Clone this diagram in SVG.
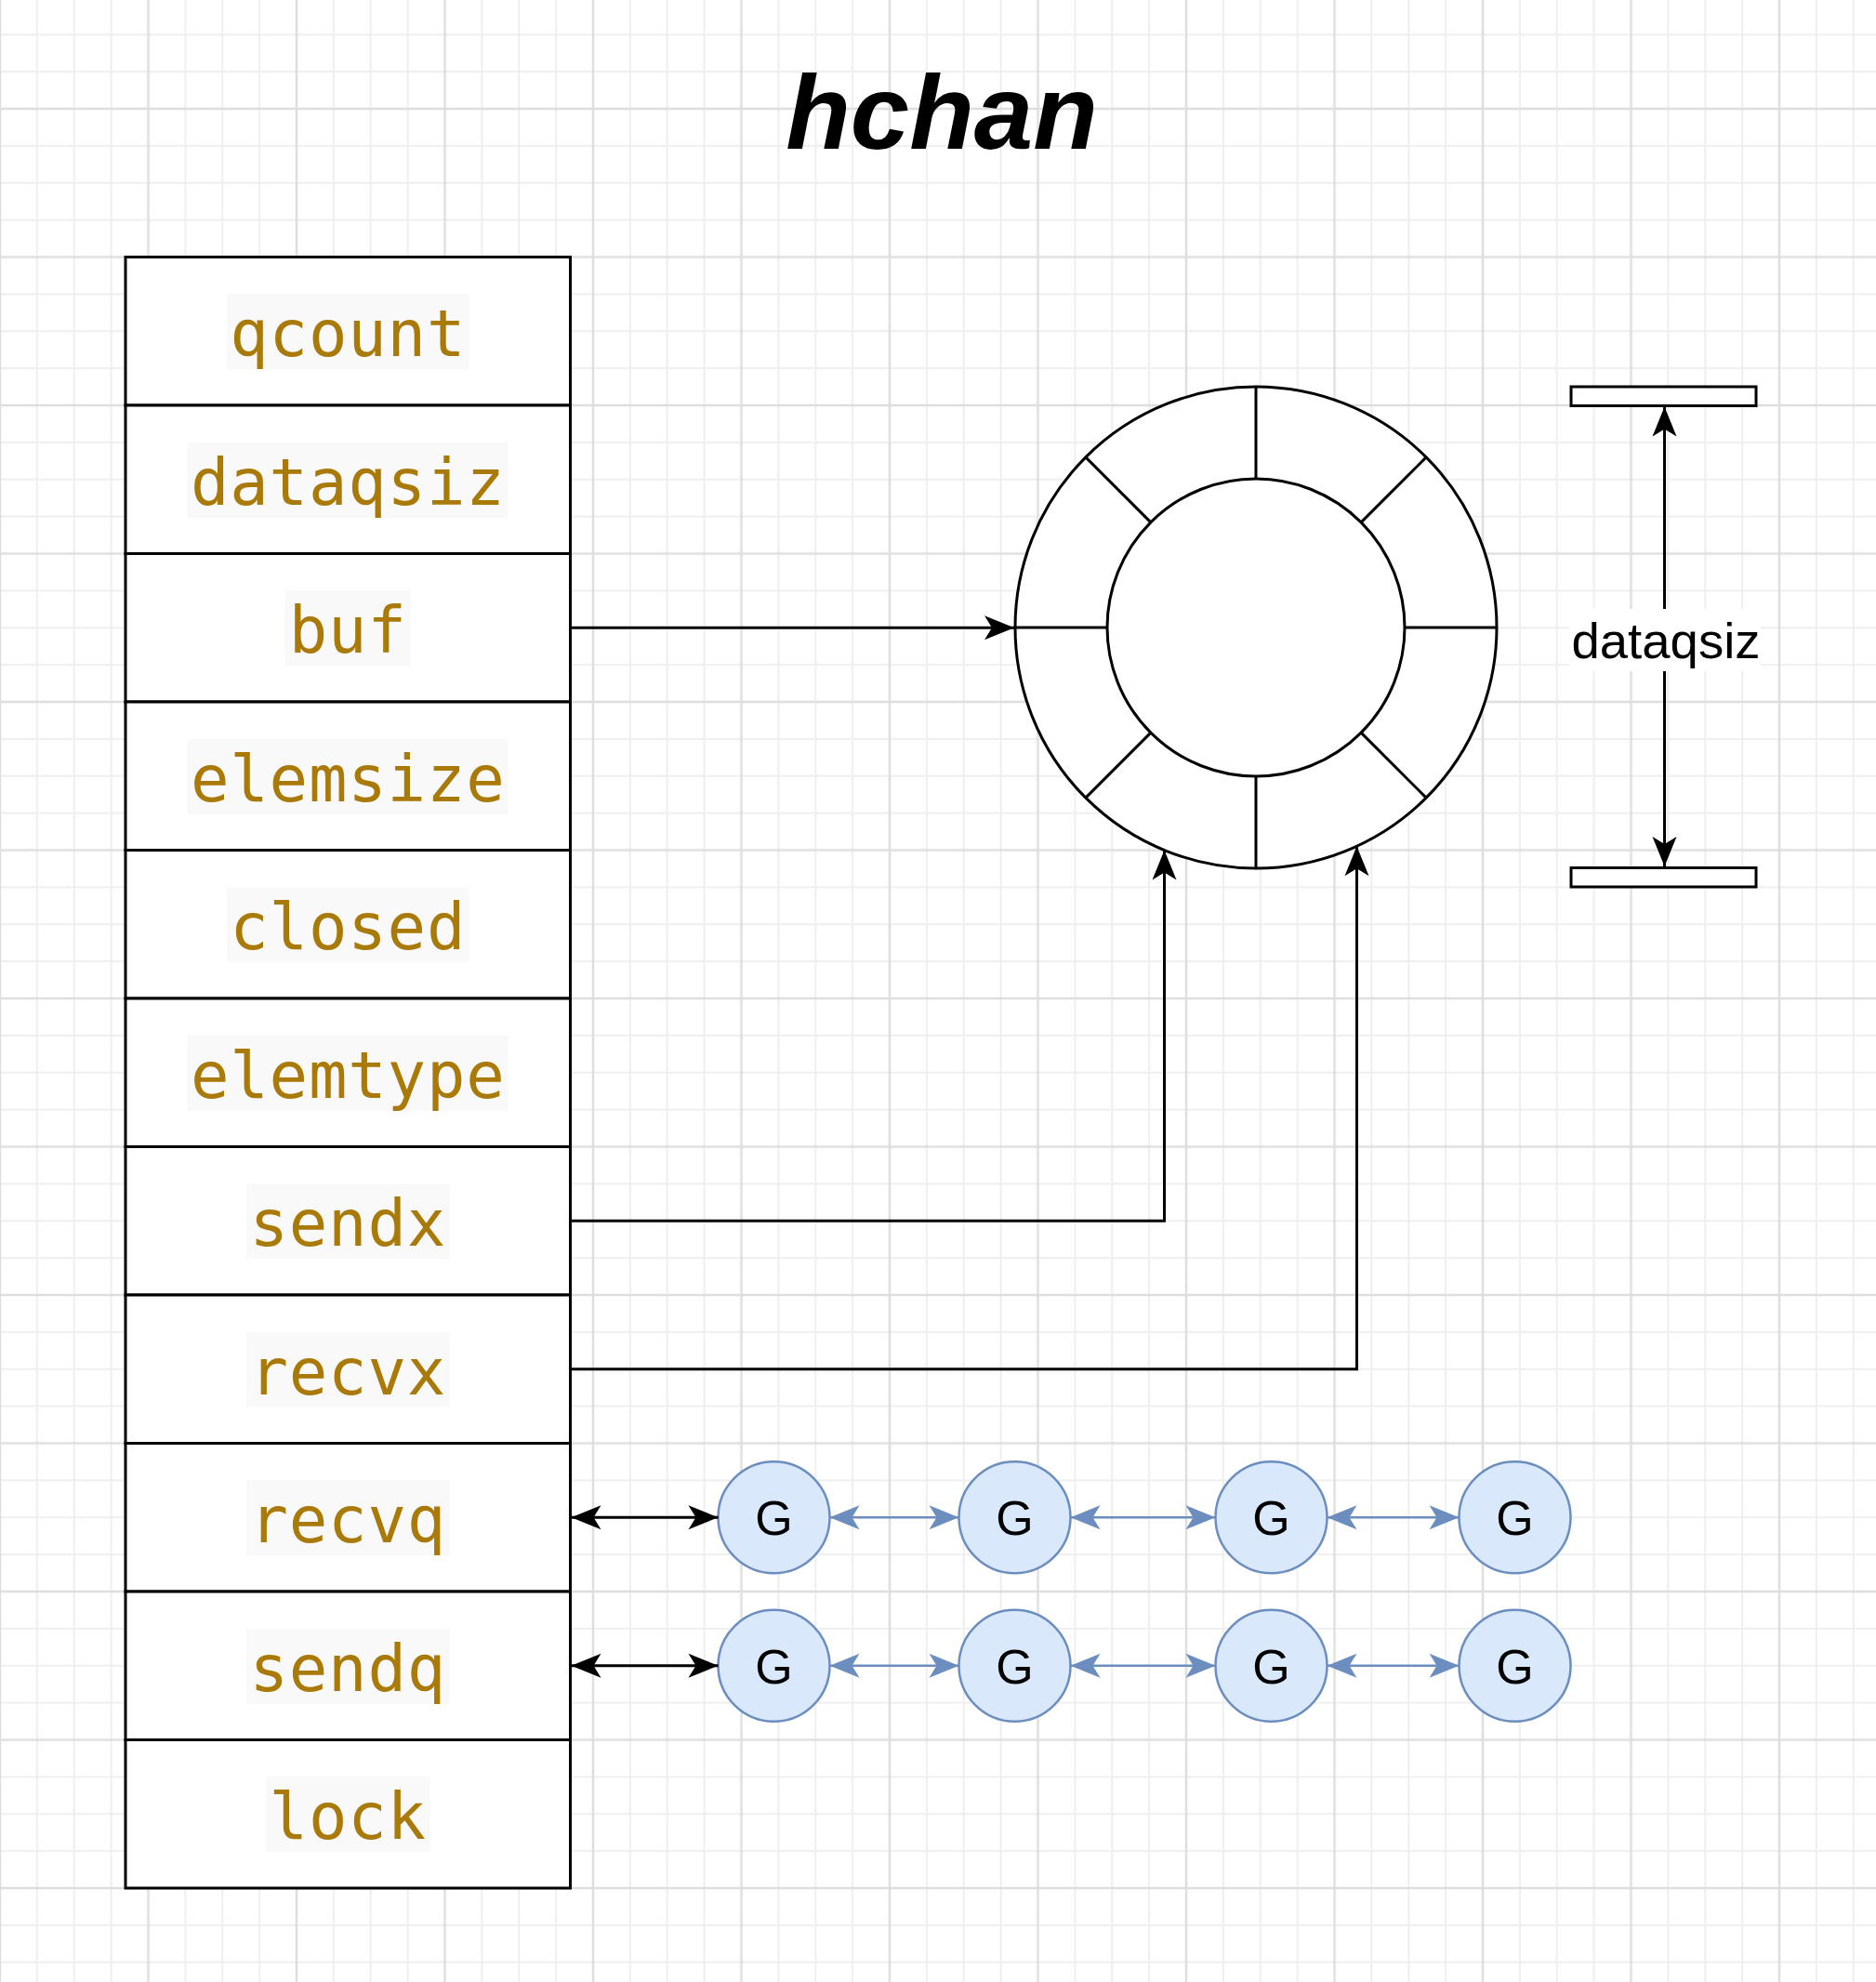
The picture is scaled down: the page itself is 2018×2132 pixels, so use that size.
<svg xmlns="http://www.w3.org/2000/svg" width="2018" height="2132" viewBox="0 0 2018 2132">
<style>
.mono{font-family:"DejaVu Sans Mono","Liberation Mono",monospace;font-size:69px;letter-spacing:0.8px;fill:#aa7a08;text-anchor:middle}
.hl{fill:#f9f9f9}
.cell{fill:#ffffff;stroke:#000;stroke-width:3}
.ln{fill:none;stroke:#000;stroke-width:3}
.bl{fill:none;stroke:#6c8ebf;stroke-width:2.5}
.g circle{fill:#dae8fc;stroke:#6c8ebf;stroke-width:2.5}
.gt{font-family:"Liberation Sans",Arial,sans-serif;font-size:52px;fill:#000;text-anchor:middle}
</style>
<defs>
<pattern id="grid" width="159.5" height="159.5" patternUnits="userSpaceOnUse" x="-79.75" y="37.25">
<g stroke="#efefef" stroke-width="2">
<line x1="0" y1="0" x2="0" y2="159.5"/><line x1="159.5" y1="0" x2="159.5" y2="159.5"/>
<line x1="39.875" y1="0" x2="39.875" y2="159.5"/><line x1="119.625" y1="0" x2="119.625" y2="159.5"/>
<line x1="0" y1="0" x2="159.5" y2="0"/><line x1="0" y1="159.5" x2="159.5" y2="159.5"/>
<line x1="0" y1="39.875" x2="159.5" y2="39.875"/><line x1="0" y1="119.625" x2="159.5" y2="119.625"/>
</g>
<g stroke="#dedede" stroke-width="2.5">
<line x1="79.75" y1="0" x2="79.75" y2="159.5"/>
<line x1="0" y1="79.75" x2="159.5" y2="79.75"/>
</g>
</pattern>
<marker id="ak" viewBox="-34 -16 36 32" refX="0" refY="0" markerWidth="36" markerHeight="32" markerUnits="userSpaceOnUse" orient="auto-start-reverse">
<path d="M0,0 L-32,-13 L-24,0 L-32,13 Z" fill="#000"/>
</marker>
<marker id="ab" viewBox="-34 -16 36 32" refX="0" refY="0" markerWidth="36" markerHeight="32" markerUnits="userSpaceOnUse" orient="auto-start-reverse">
<path d="M0,0 L-32,-13 L-24,0 L-32,13 Z" fill="#6c8ebf"/>
</marker>
</defs>
<rect x="0" y="0" width="2018" height="2132" fill="#ffffff"/>
<rect x="0" y="0" width="2018" height="2132" fill="url(#grid)"/>

<g id="title">
<text x="1013" y="160" font-family="'Liberation Sans',Arial,sans-serif" font-size="114" font-weight="bold" font-style="italic" text-anchor="middle" fill="#000">hchan</text>
</g>

<g id="hchan-table">
<g id="row-qcount"><rect class="cell" x="135" y="276.5" width="478.5" height="159.5"/><rect class="hl" x="243.85" y="316.25" width="260.8" height="81"/><text class="mono" x="374.25" y="383.25">qcount</text></g>
<g id="row-dataqsiz"><rect class="cell" x="135" y="436" width="478.5" height="159.5"/><rect class="hl" x="201.7" y="475.75" width="345.1" height="81"/><text class="mono" x="374.25" y="542.75">dataqsiz</text></g>
<g id="row-buf"><rect class="cell" x="135" y="595.5" width="478.5" height="159.5"/><rect class="hl" x="307.05" y="635.25" width="134.4" height="81"/><text class="mono" x="374.25" y="702.25">buf</text></g>
<g id="row-elemsize"><rect class="cell" x="135" y="755" width="478.5" height="159.5"/><rect class="hl" x="201.7" y="794.75" width="345.1" height="81"/><text class="mono" x="374.25" y="861.75">elemsize</text></g>
<g id="row-closed"><rect class="cell" x="135" y="914.5" width="478.5" height="159.5"/><rect class="hl" x="243.85" y="954.25" width="260.8" height="81"/><text class="mono" x="374.25" y="1021.25">closed</text></g>
<g id="row-elemtype"><rect class="cell" x="135" y="1074" width="478.5" height="159.5"/><rect class="hl" x="201.7" y="1113.75" width="345.1" height="81"/><text class="mono" x="374.25" y="1180.75">elemtype</text></g>
<g id="row-sendx"><rect class="cell" x="135" y="1233.5" width="478.5" height="159.5"/><rect class="hl" x="264.9" y="1273.25" width="218.7" height="81"/><text class="mono" x="374.25" y="1340.25">sendx</text></g>
<g id="row-recvx"><rect class="cell" x="135" y="1393" width="478.5" height="159.5"/><rect class="hl" x="264.9" y="1432.75" width="218.7" height="81"/><text class="mono" x="374.25" y="1499.75">recvx</text></g>
<g id="row-recvq"><rect class="cell" x="135" y="1552.5" width="478.5" height="159.5"/><rect class="hl" x="264.9" y="1592.25" width="218.7" height="81"/><text class="mono" x="374.25" y="1659.25">recvq</text></g>
<g id="row-sendq"><rect class="cell" x="135" y="1712" width="478.5" height="159.5"/><rect class="hl" x="264.9" y="1751.75" width="218.7" height="81"/><text class="mono" x="374.25" y="1818.75">sendq</text></g>
<g id="row-lock"><rect class="cell" x="135" y="1871.5" width="478.5" height="159.5"/><rect class="hl" x="285.95" y="1911.25" width="176.6" height="81"/><text class="mono" x="374.25" y="1978.25">lock</text></g>
</g>

<g id="ring-buffer">
<circle cx="1351" cy="675" r="259" fill="#ffffff" stroke="#000" stroke-width="3"/>
<circle cx="1351" cy="675" r="160" fill="#ffffff" stroke="#000" stroke-width="3"/>
<g stroke="#000" stroke-width="3">
<line x1="1351" y1="416" x2="1351" y2="515"/>
<line x1="1351" y1="835" x2="1351" y2="934"/>
<line x1="1092" y1="675" x2="1191" y2="675"/>
<line x1="1511" y1="675" x2="1610" y2="675"/>
<line x1="1167.9" y1="491.9" x2="1237.9" y2="561.9"/>
<line x1="1534.1" y1="491.9" x2="1464.1" y2="561.9"/>
<line x1="1167.9" y1="858.1" x2="1237.9" y2="788.1"/>
<line x1="1534.1" y1="858.1" x2="1464.1" y2="788.1"/>
</g>
</g>

<g id="dimension">
<rect x="1690" y="416" width="199" height="20.5" fill="#ffffff" stroke="#000" stroke-width="3"/>
<rect x="1690" y="933.5" width="199" height="20.5" fill="#ffffff" stroke="#000" stroke-width="3"/>
</g>

<g id="recvq-list" class="g">
<g id="recvq-g1"><circle cx="832.5" cy="1632.25" r="60"/><text class="gt" x="832.5" y="1651">G</text></g>
<g id="recvq-g2"><circle cx="1091.5" cy="1632.25" r="60"/><text class="gt" x="1091.5" y="1651">G</text></g>
<g id="recvq-g3"><circle cx="1367.5" cy="1632.25" r="60"/><text class="gt" x="1367.5" y="1651">G</text></g>
<g id="recvq-g4"><circle cx="1629.5" cy="1632.25" r="60"/><text class="gt" x="1629.5" y="1651">G</text></g>
</g>
<g id="sendq-list" class="g">
<g id="sendq-g1"><circle cx="832.5" cy="1791.75" r="60"/><text class="gt" x="832.5" y="1810.5">G</text></g>
<g id="sendq-g2"><circle cx="1091.5" cy="1791.75" r="60"/><text class="gt" x="1091.5" y="1810.5">G</text></g>
<g id="sendq-g3"><circle cx="1367.5" cy="1791.75" r="60"/><text class="gt" x="1367.5" y="1810.5">G</text></g>
<g id="sendq-g4"><circle cx="1629.5" cy="1791.75" r="60"/><text class="gt" x="1629.5" y="1810.5">G</text></g>
</g>

<g id="connectors">
<path class="ln" d="M613.5 675.25 H1091" marker-end="url(#ak)"/>
<path class="ln" d="M613.5 1313.25 H1252.5 V914.5" marker-end="url(#ak)"/>
<path class="ln" d="M613.5 1472.75 H1459.5 V910.2" marker-end="url(#ak)"/>
<path class="ln" d="M614.5 1632.25 H772.5" marker-start="url(#ak)" marker-end="url(#ak)"/>
<path class="ln" d="M614.5 1791.75 H772.5" marker-start="url(#ak)" marker-end="url(#ak)"/>
<path class="bl" d="M892.5 1632.25 H1031.5" marker-start="url(#ab)" marker-end="url(#ab)"/>
<path class="bl" d="M1151.5 1632.25 H1307.5" marker-start="url(#ab)" marker-end="url(#ab)"/>
<path class="bl" d="M1427.5 1632.25 H1569.5" marker-start="url(#ab)" marker-end="url(#ab)"/>
<path class="bl" d="M892.5 1791.75 H1031.5" marker-start="url(#ab)" marker-end="url(#ab)"/>
<path class="bl" d="M1151.5 1791.75 H1307.5" marker-start="url(#ab)" marker-end="url(#ab)"/>
<path class="bl" d="M1427.5 1791.75 H1569.5" marker-start="url(#ab)" marker-end="url(#ab)"/>
<path class="ln" d="M1790.5 437.5 V932" marker-start="url(#ak)" marker-end="url(#ak)"/>
<rect x="1688" y="655" width="206" height="67" fill="#ffffff"/>
<text x="1792" y="708" font-family="'Liberation Sans',Arial,sans-serif" font-size="54.5" text-anchor="middle" fill="#000">dataqsiz</text>
</g>
</svg>
